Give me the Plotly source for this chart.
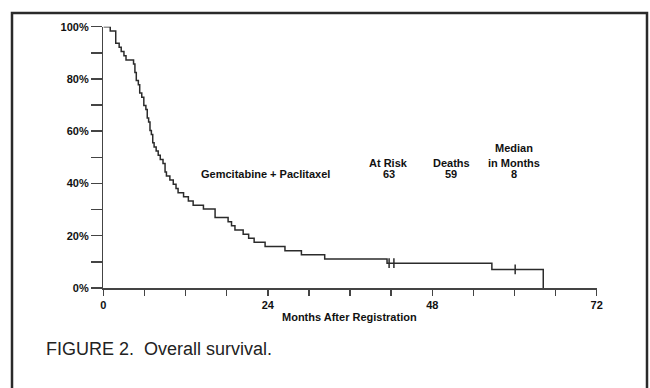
import plotly.graph_objects as go

# Kaplan-Meier step data (months, % surviving after each event)
months = [0, 1.0, 1.8, 2.3, 2.6, 3.0, 3.3, 4.4, 4.6, 4.8, 5.1, 5.3, 5.6, 5.9, 6.2, 6.4,
          6.6, 6.8, 7.0, 7.2, 7.4, 7.7, 8.0, 8.3, 8.7, 9.0, 9.2, 9.7, 10.2, 10.6, 10.9,
          11.7, 12.4, 13.1, 14.6, 16.3, 18.2, 18.7, 19.2, 20.4, 21.2, 22.0, 23.6,
          26.5, 28.9, 32.3, 41.4, 56.7, 64.2]
survival = [100, 98.4, 93.7, 92.1, 90.5, 88.9, 87.3, 85.7, 82.5, 79.4, 77.8, 74.6, 73.0,
            69.8, 68.3, 65.1, 63.5, 60.3, 58.7, 55.6, 54.0, 52.4, 50.8, 49.2, 47.6, 44.4,
            42.9, 41.3, 39.7, 38.1, 36.5, 34.9, 33.3, 31.7, 30.2, 27.0, 25.4, 23.8, 22.2,
            20.6, 19.0, 17.5, 15.9, 14.3, 12.7, 11.1, 9.5, 7.1, 0]
censor_months = [41.7, 42.4, 60.1]
censor_surv = [9.5, 9.5, 7.1]

x_ticks = list(range(0, 73, 6))
x_labels = ["0" if v == 0 else (str(v) if v % 24 == 0 else "") for v in x_ticks]
y_ticks = list(range(0, 101, 10))
y_labels = [f"{v}%" if v % 20 == 0 else "" for v in y_ticks]

W, H = 650, 388
def px(x):
    return x / W
def py(y):
    return 1 - y / H

fig = go.Figure()
fig.add_trace(go.Scatter(x=months, y=survival, mode="lines", line_shape="hv",
                         line=dict(color="#2b2b2b", width=1.5), cliponaxis=False,
                         hoverinfo="skip", showlegend=False))
fig.add_trace(go.Scatter(x=censor_months, y=censor_surv, mode="markers",
                         marker=dict(symbol="line-ns", size=7, line=dict(color="#2b2b2b", width=1.5)),
                         cliponaxis=False, showlegend=False, hoverinfo="skip"))

tick_font = dict(family="Liberation Sans, Arial, sans-serif", size=11, color="#111", weight="bold")
fig.update_layout(
    width=W, height=H, margin=dict(l=0, r=0, t=0, b=0),
    paper_bgcolor="white", plot_bgcolor="white",
    xaxis=dict(domain=[px(103.4), px(596.7)], range=[0, 72], tickvals=x_ticks, ticktext=x_labels,
               ticks="outside", ticklen=6, tickwidth=1.5, tickcolor="#444",
               showline=True, linecolor="#444", linewidth=1.5, showgrid=False, zeroline=False,
               tickfont=tick_font, automargin=False),
    yaxis=dict(domain=[py(288), py(26.7)], range=[0, 100], tickvals=y_ticks, ticktext=y_labels,
               ticks="outside", ticklen=11, tickwidth=1.5, tickcolor="#444",
               showline=True, linecolor="#444", linewidth=1.5, showgrid=False, zeroline=False,
               tickfont=tick_font, automargin=False),
)

ann_font = dict(family="Liberation Sans, Arial, sans-serif", size=11, color="#111", weight="bold")
texts = [
    ("Gemcitabine + Paclitaxel", 265.7, 174),
    ("At Risk", 388.5, 162.7), ("63", 388.5, 174),
    ("Deaths", 451, 162.7), ("59", 451, 174),
    ("Median", 514, 148), ("in Months", 514, 162.7), ("8", 514, 174),
    ("Months After Registration", 349, 316.5),
]
for t, x, y in texts:
    fig.add_annotation(text=t, x=px(x), y=py(y), xref="paper", yref="paper",
                       xanchor="center", yanchor="middle", showarrow=False, font=ann_font)

fig.add_annotation(text="FIGURE 2.  Overall survival.", x=px(44), y=py(349), xref="paper", yref="paper",
                   xanchor="left", yanchor="middle", showarrow=False,
                   font=dict(family="Liberation Sans Narrow, Liberation Sans, Arial, sans-serif",
                             size=18, color="#222"))

fig.add_shape(type="rect", xref="paper", yref="paper", x0=px(12), x1=px(647), y0=-0.1, y1=py(13),
              line=dict(color="#2a2a2a", width=2.5), fillcolor="rgba(0,0,0,0)", layer="above")

fig.write_html("out.html", config={"displayModeBar": False, "staticPlot": True},
               post_script="document.body.style.margin='0';document.body.style.overflow='hidden';")
